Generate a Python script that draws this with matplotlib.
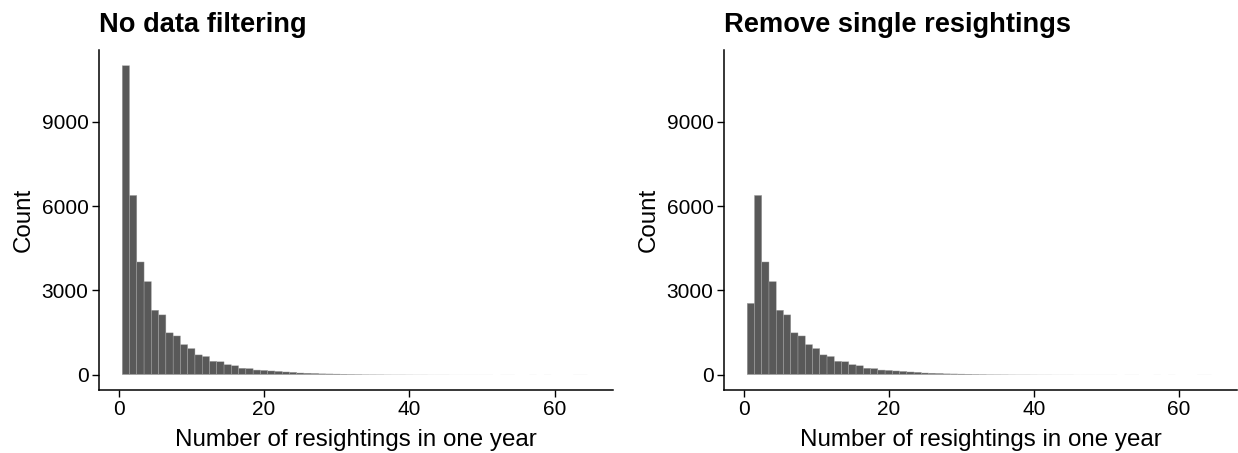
import matplotlib
matplotlib.use("Agg")
import matplotlib.pyplot as plt

# number of resightings per bird per year (bins of width 1, centred on 1..64)
resightings = list(range(1, 65))
counts_all = [11000, 6380, 4010, 3310, 2290, 2125, 1485, 1375, 1065, 925,
              700, 642, 472, 455, 350, 312, 224, 212, 160, 148,
              128, 112, 92, 80, 55, 48, 40, 30, 26, 22,
              18, 15, 13, 10, 9, 8, 6, 5, 5, 4,
              3, 3, 2, 2, 2, 1, 1, 1, 1, 1,
              1, 0, 1, 1, 0, 0, 1, 0, 1, 0, 0, 0, 1, 1]
# same but birds with a single resighting removed
counts_filtered = [2535] + counts_all[1:]

titles = ["No data filtering", "Remove single resightings"]
xticks = [0, 20, 40, 60]
yticks = [0, 3000, 6000, 9000]

plt.rcParams["font.family"] = ["Liberation Sans", "DejaVu Sans"]

W, H = 1238, 453
fig = plt.figure(figsize=(W / 100, H / 100), dpi=100)

boxes = [(99, 613), (724, 1237)]
top, bottom = 50, 390

for (x0, x1), title, counts in zip(boxes, titles, [counts_all, counts_filtered]):
    ax = fig.add_axes([x0 / W, (H - bottom) / H, (x1 - x0) / W, (bottom - top) / H])
    # thin light outline like ggplot's bar borders, skipped on near-empty bins
    edges = ["#a6a6a6" if c > 30 else "none" for c in counts]
    bars = ax.bar(resightings, counts, width=1.0, color="#595959",
                  edgecolor=edges, linewidth=0.3)
    for b in bars:
        b.set_snap(False)
    ax.set_xlim(-2.7, 68)
    ax.set_ylim(-550, 11560)
    ax.set_xticks(xticks)
    ax.set_yticks(yticks)
    for side in ["top", "right"]:
        ax.spines[side].set_visible(False)
    for side in ["left", "bottom"]:
        ax.spines[side].set_linewidth(1.1)
    ax.tick_params(labelsize=15, length=5, width=1.0, pad=2.5, colors="black")
    ax.set_xlabel("Number of resightings in one year", fontsize=17.4, labelpad=7)
    ax.set_ylabel("Count", fontsize=17.4, labelpad=5)
    ax.set_title(title, loc="left", fontsize=19.6, fontweight="bold", pad=13)

fig.savefig("out.png", dpi=100)
